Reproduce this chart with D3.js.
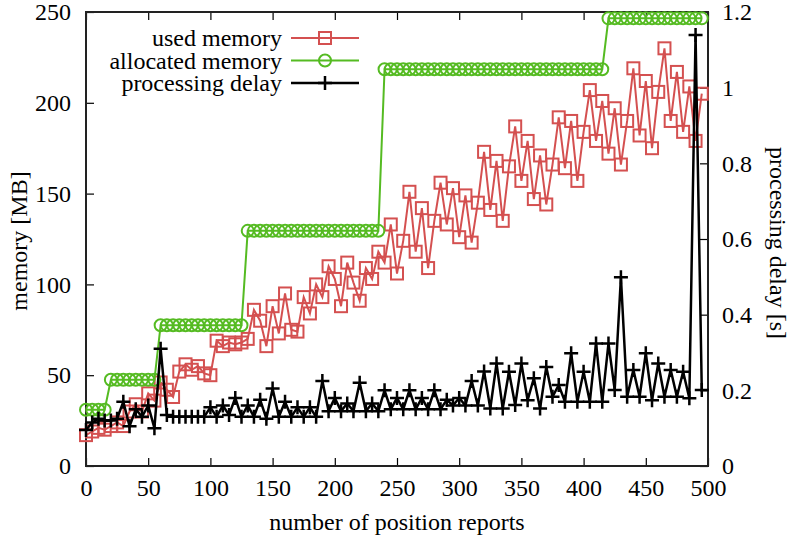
<!DOCTYPE html>
<html>
<head>
<meta charset="utf-8">
<script src="https://cdn.jsdelivr.net/npm/d3@7"></script>
<style>
    body { margin: 0; background: #fff; }
    svg text { font-family: "Liberation Serif", "DejaVu Serif", serif; font-size: 24px; fill: #000; }
</style>
</head>
<body>
<svg id="chart" width="791" height="543"></svg>
<script>
// number of position reports (x of every sample)
const reports = [0, 5, 10, 15, 20, 25, 30, 35, 40, 45, 50, 55, 60, 65, 70, 75, 80, 85, 90, 95,
    100, 105, 110, 115, 120, 125, 130, 135, 140, 145, 150, 155, 160, 165, 170, 175, 180, 185, 190, 195,
    200, 205, 210, 215, 220, 225, 230, 235, 240, 245, 250, 255, 260, 265, 270, 275, 280, 285, 290, 295,
    300, 305, 310, 315, 320, 325, 330, 335, 340, 345, 350, 355, 360, 365, 370, 375, 380, 385, 390, 395,
    400, 405, 410, 415, 420, 425, 430, 435, 440, 445, 450, 455, 460, 465, 470, 475, 480, 485, 490, 495];

// MB
const usedMemory = [17, 19, 21, 20, 22, 24, 22, 30, 34, 30, 40, 36, 46, 42, 38, 52, 56, 53, 55, 51,
    50, 69, 66, 68, 67, 68, 70, 86, 80, 66, 88, 73, 95, 75, 74, 93, 84, 100, 93, 110,
    103, 88, 112, 101, 91, 109, 103, 118, 112, 133, 106, 124, 151, 118, 142, 109, 135, 156, 133, 153,
    126, 149, 123, 145, 173, 141, 168, 135, 165, 187, 157, 179, 147, 171, 144, 166, 192, 164, 190, 157,
    184, 207, 179, 201, 172, 197, 166, 190, 219, 182, 212, 175, 206, 230, 190, 217, 184, 209, 179, 205];

// MB
const allocatedMemory = [31, 31, 31, 31, 47.5, 47.5, 47.5, 47.5, 47.5, 47.5, 47.5, 47.5, 77.5, 77.5, 77.5, 77.5, 77.5, 77.5, 77.5, 77.5,
    77.5, 77.5, 77.5, 77.5, 77.5, 77.5, 129.5, 129.5, 129.5, 129.5, 129.5, 129.5, 129.5, 129.5, 129.5, 129.5, 129.5, 129.5, 129.5, 129.5,
    129.5, 129.5, 129.5, 129.5, 129.5, 129.5, 129.5, 129.5, 218.5, 218.5, 218.5, 218.5, 218.5, 218.5, 218.5, 218.5, 218.5, 218.5, 218.5, 218.5,
    218.5, 218.5, 218.5, 218.5, 218.5, 218.5, 218.5, 218.5, 218.5, 218.5, 218.5, 218.5, 218.5, 218.5, 218.5, 218.5, 218.5, 218.5, 218.5, 218.5,
    218.5, 218.5, 218.5, 218.5, 246.5, 246.5, 246.5, 246.5, 246.5, 246.5, 246.5, 246.5, 246.5, 246.5, 246.5, 246.5, 246.5, 246.5, 246.5, 246.5];

// seconds
const processingDelay = [0.095, 0.115, 0.125, 0.12, 0.12, 0.125, 0.17, 0.105, 0.15, 0.13, 0.16, 0.10, 0.31, 0.135, 0.13, 0.13, 0.13, 0.13, 0.13, 0.13,
    0.155, 0.13, 0.16, 0.135, 0.18, 0.13, 0.16, 0.13, 0.175, 0.125, 0.205, 0.13, 0.17, 0.13, 0.155, 0.13, 0.155, 0.13, 0.225, 0.145,
    0.18, 0.145, 0.165, 0.145, 0.22, 0.145, 0.165, 0.145, 0.2, 0.15, 0.18, 0.15, 0.2, 0.15, 0.18, 0.15, 0.2, 0.15, 0.175, 0.16,
    0.18, 0.16, 0.225, 0.16, 0.25, 0.152, 0.271, 0.152, 0.249, 0.161, 0.271, 0.174, 0.232, 0.152, 0.262, 0.183, 0.214, 0.17, 0.298, 0.17,
    0.249, 0.17, 0.324, 0.17, 0.324, 0.201, 0.499, 0.183, 0.254, 0.183, 0.298, 0.174, 0.271, 0.183, 0.254, 0.183, 0.249, 0.179, 1.139, 0.201];

const xTicks = [0, 50, 100, 150, 200, 250, 300, 350, 400, 450, 500];
const memoryTicks = [0, 50, 100, 150, 200, 250];
const delayTicks = [0, 0.2, 0.4, 0.6, 0.8, 1, 1.2];
const seriesNames = ["used memory", "allocated memory", "processing delay"];
const seriesColors = ["#d45050", "#55bb22", "#000000"];

const svg = d3.select("#chart");
const plot = { left: 86, right: 708, top: 12, bottom: 466 };

const x = d3.scaleLinear().domain([0, 500]).range([plot.left, plot.right]);
const yMem = d3.scaleLinear().domain([0, 250]).range([plot.bottom, plot.top]);
const yDelay = d3.scaleLinear().domain([0, 1.2]).range([plot.bottom, plot.top]);

// axes, ticks pointing inward like gnuplot
function styleAxis(g) {
    g.select(".domain").remove();
    g.selectAll("line").attr("stroke", "#000").attr("stroke-width", 1.2);
    g.selectAll("text").attr("font-family", null).attr("font-size", null);
}

svg.append("g").attr("transform", `translate(0,${plot.bottom})`)
    .call(d3.axisBottom(x).tickValues(xTicks).tickSizeInner(-8).tickSizeOuter(0).tickPadding(13).tickFormat(d3.format("d")))
    .call(styleAxis);
svg.append("g").attr("transform", `translate(0,${plot.top})`)
    .call(d3.axisTop(x).tickValues(xTicks).tickSizeInner(-8).tickSizeOuter(0).tickFormat(""))
    .call(styleAxis);
svg.append("g").attr("transform", `translate(${plot.left},0)`)
    .call(d3.axisLeft(yMem).tickValues(memoryTicks).tickSizeInner(-8).tickSizeOuter(0).tickPadding(15).tickFormat(d3.format("d")))
    .call(styleAxis);
svg.append("g").attr("transform", `translate(${plot.right},0)`)
    .call(d3.axisRight(yDelay).tickValues(delayTicks).tickSizeInner(-8).tickSizeOuter(0).tickPadding(14).tickFormat(d => d3.format("~g")(d)))
    .call(styleAxis);

svg.append("rect")
    .attr("x", plot.left).attr("y", plot.top)
    .attr("width", plot.right - plot.left).attr("height", plot.bottom - plot.top)
    .attr("fill", "none").attr("stroke", "#222").attr("stroke-width", 2);

// axis titles
svg.append("text").attr("transform", "translate(27,241) rotate(-90)")
    .attr("text-anchor", "middle").text("memory [MB]");
svg.append("text").attr("transform", "translate(770,243) rotate(90)")
    .attr("text-anchor", "middle").text("processing delay [s]");
svg.append("text").attr("x", 397).attr("y", 530)
    .attr("text-anchor", "middle").text("number of position reports");

// markers
function square(g, cx, cy, color) {
    g.append("rect").attr("x", cx - 6).attr("y", cy - 6).attr("width", 12).attr("height", 12)
        .attr("fill", "none").attr("stroke", color).attr("stroke-width", 2);
}
function circle(g, cx, cy, color) {
    g.append("circle").attr("cx", cx).attr("cy", cy).attr("r", 6)
        .attr("fill", "none").attr("stroke", color).attr("stroke-width", 2);
}
function plus(g, cx, cy, color) {
    g.append("path").attr("d", `M${cx - 7},${cy}H${cx + 7}M${cx},${cy - 7}V${cy + 7}`)
        .attr("stroke", color).attr("stroke-width", 2.5).attr("fill", "none");
}

const series = [
    { values: usedMemory, y: yMem, marker: square, width: 2 },
    { values: allocatedMemory, y: yMem, marker: circle, width: 2 },
    { values: processingDelay, y: yDelay, marker: plus, width: 2.5 }
];

series.forEach((s, i) => {
    const color = seriesColors[i];
    const g = svg.append("g");
    const line = d3.line()
        .x((d, k) => x(reports[k]))
        .y(d => s.y(d));
    g.append("path").attr("d", line(s.values))
        .attr("fill", "none").attr("stroke", color).attr("stroke-width", s.width);
    s.values.forEach((v, k) => s.marker(g, x(reports[k]), s.y(v), color));
});

// legend
const legend = svg.append("g");
seriesNames.forEach((name, i) => {
    const ly = 38 + i * 22.5;
    legend.append("text").attr("x", 282).attr("y", ly).attr("dy", "0.35em")
        .attr("text-anchor", "end").text(name);
    legend.append("line").attr("x1", 291).attr("x2", 359).attr("y1", ly).attr("y2", ly)
        .attr("stroke", seriesColors[i]).attr("stroke-width", series[i].width);
    series[i].marker(legend, 325, ly, seriesColors[i]);
});
</script>
</body>
</html>
